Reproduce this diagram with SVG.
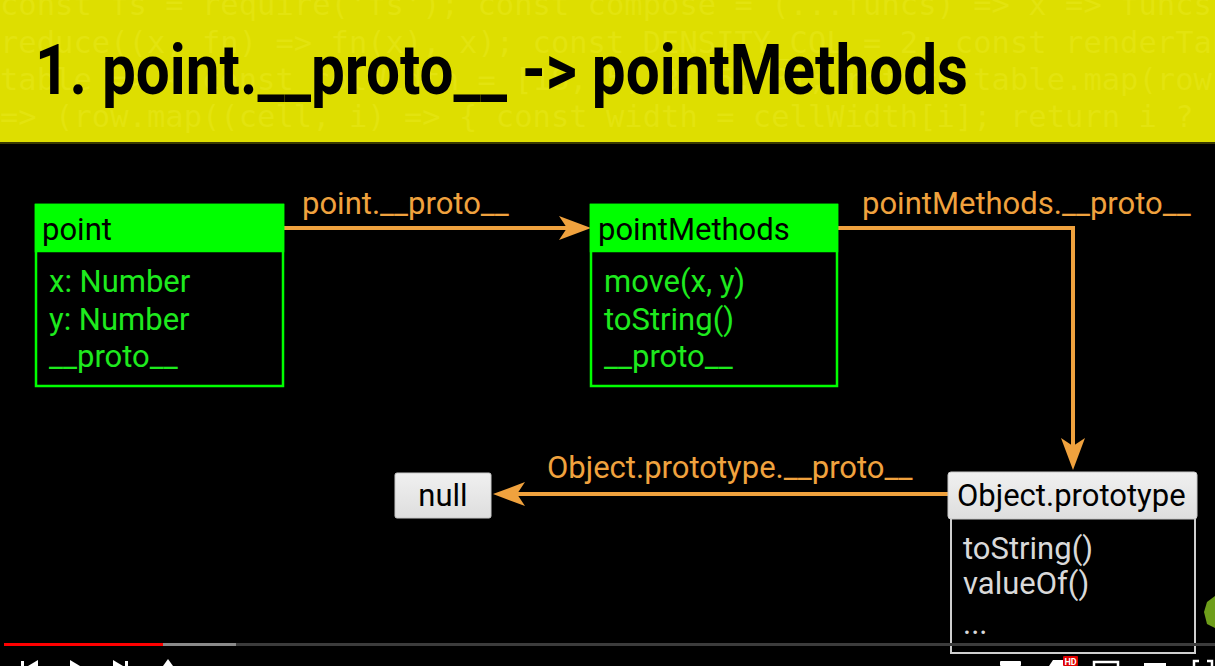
<svg xmlns="http://www.w3.org/2000/svg" width="1215" height="666" viewBox="0 0 1215 666">
  <style>
    .code { font-family: "DejaVu Sans Mono", "Liberation Mono", monospace; font-size: 30.5px; fill: #e3e30f; }
    .title { font-family: Roboto, "Liberation Sans", sans-serif; font-weight: bold; font-size: 70px; fill: #000; }
    .t { font-family: Roboto, "Liberation Sans", sans-serif; font-size: 31px; }
    .hdr { fill: #000; }
    .grn { fill: #1eea1e; }
    .gry { fill: #d9d9d9; }
    .lbl { fill: #f0a23e; }
    .box-g { fill: #000; stroke: #00ff00; stroke-width: 2.5; }
    .hdr-g { fill: #00ff00; stroke: #00ff00; stroke-width: 2.5; }
    .edge { fill: none; stroke: #f0a23e; stroke-width: 4; marker-end: url(#arrow); }
    .icon { fill: #fff; }
  </style>
  <defs>
    <marker id="arrow" markerUnits="userSpaceOnUse" viewBox="0 0 32 24" refX="8" refY="12" markerWidth="32" markerHeight="24" orient="auto">
      <path d="M0,0 L32,12 L0,24 L8,12 Z" fill="#f0a23e"/>
    </marker>
    <linearGradient id="light" x1="0" y1="0" x2="0" y2="1">
      <stop offset="0" stop-color="#f0f0f0"/>
      <stop offset="1" stop-color="#dedede"/>
    </linearGradient>
  </defs>

  <!-- page background -->
  <rect x="0" y="0" width="1215" height="666" fill="#000"/>

  <!-- title banner with faint code backdrop -->
  <g id="banner">
    <rect x="0" y="0" width="1215" height="143" fill="#dede00"/>
    <rect x="0" y="142" width="1215" height="2" fill="#3a3a00"/>
    <text class="code" x="0" y="15">const fs = require('fs'); const compose = (...funcs) =&gt; x =&gt; funcs.reduce</text>
    <text class="code" x="0" y="53">reduce((x, fn) =&gt; fn(x), x); const DENSITY_COL = 2; const renderTable = </text>
    <text class="code" x="0" y="90">table =&gt; { const colWidth = [18, 5, 8, 5, 8]; return table.map(row </text>
    <text class="code" x="0" y="127">=&gt; (row.map((cell, i) =&gt; { const width = cellWidth[i]; return i ? </text>
    <text class="title" x="35" y="94" textLength="933" lengthAdjust="spacingAndGlyphs">1. point.__proto__ -&gt; pointMethods</text>
  </g>

  <!-- connectors -->
  <g id="connectors">
    <path class="edge" d="M283,228 H567"/>
    <path class="edge" d="M837,228 H1073 V446"/>
    <path class="edge" d="M948,494 H517"/>
    <text class="t lbl" x="302" y="214">point.__proto__</text>
    <text class="t lbl" x="862" y="214">pointMethods.__proto__</text>
    <text class="t lbl" x="547" y="478">Object.prototype.__proto__</text>
  </g>

  <g id="point">
    <rect class="box-g" x="36" y="205" width="247" height="181"/>
    <rect class="hdr-g" x="36" y="205" width="247" height="46"/>
    <text class="t hdr" x="42" y="240">point</text>
    <text class="t grn" x="49" y="292">x: Number</text>
    <text class="t grn" x="49" y="330">y: Number</text>
    <text class="t grn" x="49" y="367">__proto__</text>
  </g>

  <g id="pointMethods">
    <rect class="box-g" x="591" y="205" width="246" height="181"/>
    <rect class="hdr-g" x="591" y="205" width="246" height="46"/>
    <text class="t hdr" x="598" y="240">pointMethods</text>
    <text class="t grn" x="604" y="292">move(x, y)</text>
    <text class="t grn" x="604" y="330">toString()</text>
    <text class="t grn" x="604" y="367">__proto__</text>
  </g>

  <g id="objectPrototype">
    <rect x="951" y="518" width="244" height="135" fill="#000" stroke="#cfcfcf" stroke-width="2"/>
    <rect x="948" y="472" width="249" height="47" rx="3" fill="url(#light)" stroke="#c8c8c8" stroke-width="1"/>
    <text class="t hdr" x="957" y="506">Object.prototype</text>
    <text class="t gry" x="963" y="559">toString()</text>
    <text class="t gry" x="963" y="594">valueOf()</text>
    <text class="t gry" x="963" y="634">...</text>
  </g>

  <g id="null">
    <rect x="395" y="473" width="96" height="45" rx="2" fill="url(#light)" stroke="#c8c8c8" stroke-width="1"/>
    <text class="t hdr" x="443" y="506" text-anchor="middle">null</text>
  </g>

  <!-- player chrome along the bottom edge -->
  <g id="player">
    <path d="M1207,602 L1215,596 L1215,628 L1207,624 L1204,612 Z" fill="#6e9e1a"/>
    <rect x="4" y="643" width="1211" height="3" fill="#3c3c3c"/>
    <rect x="4" y="643" width="232" height="3" fill="#8a8a8a"/>
    <rect x="4" y="643" width="159" height="3" fill="#ff0000"/>
    <rect class="icon" x="21" y="661" width="3" height="5"/>
    <path class="icon" d="M38,660 L28,666 L38,666 Z"/>
    <path class="icon" d="M70,660 L70,666 L80,666 Z"/>
    <path class="icon" d="M113,660 L113,666 L123,666 Z"/>
    <rect class="icon" x="125" y="661" width="3" height="5"/>
    <path class="icon" d="M168,659 L163,666 L173,666 Z"/>
    <rect class="icon" x="1000" y="661" width="21" height="5" rx="1"/>
    <path class="icon" d="M1049,666 L1053,660 L1070,660 L1074,666 Z"/>
    <rect x="1063" y="656" width="15" height="10" rx="1" fill="#e00000"/>
    <text x="1070.5" y="665" text-anchor="middle" font-family="Roboto, 'Liberation Sans', sans-serif" font-size="9" font-weight="bold" fill="#fff">HD</text>
    <path d="M1094,666 V662 H1118 V666" fill="none" stroke="#fff" stroke-width="2.5"/>
    <rect class="icon" x="1144" y="663" width="22" height="3"/>
    <path d="M1194,666 V661 H1199 M1207,661 H1212 V666" fill="none" stroke="#fff" stroke-width="2.5"/>
  </g>
</svg>
